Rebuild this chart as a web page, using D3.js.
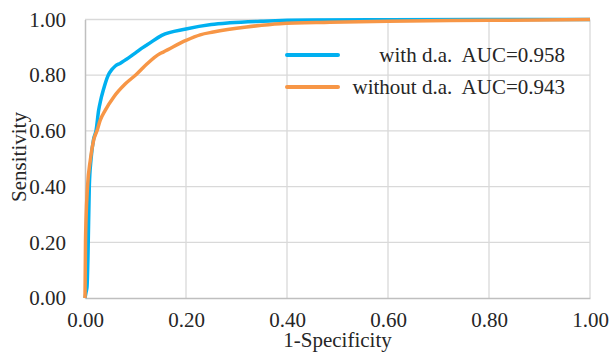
<!DOCTYPE html>
<html>
<head>
<meta charset="utf-8">
<script src="https://cdn.jsdelivr.net/npm/d3@7/dist/d3.min.js"></script>
<style>
  body { margin: 0; background: #fff; }
  text { font-family: "Liberation Serif", "Times New Roman", serif; fill: #262626; }
</style>
</head>
<body>
<div id="chart"></div>
<script>
// ROC curve points: fpr (1-specificity) and tpr (sensitivity)
var withFpr = [0, 0.002, 0.004, 0.006, 0.0085, 0.012, 0.017, 0.022, 0.027, 0.031, 0.036, 0.046, 0.053, 0.060, 0.070, 0.080, 0.089, 0.100, 0.115, 0.123, 0.152, 0.200, 0.250, 0.287, 0.353, 0.450, 0.600, 1.000];
var withTpr = [0, 0.020, 0.040, 0.160, 0.400, 0.500, 0.570, 0.602, 0.674, 0.710, 0.745, 0.800, 0.820, 0.833, 0.843, 0.855, 0.866, 0.880, 0.900, 0.909, 0.943, 0.966, 0.982, 0.988, 0.994, 0.998, 0.999, 1.000];

var withoutFpr = [0, 0.001, 0.002, 0.005, 0.0105, 0.017, 0.024, 0.030, 0.040, 0.057, 0.080, 0.103, 0.123, 0.148, 0.155, 0.200, 0.228, 0.254, 0.320, 0.386, 0.485, 0.600, 0.800, 1.000];
var withoutTpr = [0, 0.200, 0.280, 0.400, 0.495, 0.566, 0.602, 0.638, 0.674, 0.722, 0.769, 0.805, 0.841, 0.877, 0.883, 0.925, 0.945, 0.955, 0.973, 0.985, 0.990, 0.994, 0.997, 1.000];

var seriesNames = ["with d.a.  AUC=0.958", "without d.a.  AUC=0.943"];
var seriesColors = ["#00b0f0", "#f79646"];
var ticks = [0, 0.2, 0.4, 0.6, 0.8, 1.0];

var margin = {top: 19.5, right: 20, bottom: 54, left: 85};
var W = 610, H = 352;
var w = W - margin.left - margin.right;
var h = H - margin.top - margin.bottom;
var fontSize = "21px";

var svg = d3.select("#chart").append("svg")
  .attr("width", W)
  .attr("height", H);

var g = svg.append("g")
  .attr("transform", "translate(" + margin.left + "," + margin.top + ")");

var x = d3.scaleLinear().domain([0, 1]).range([0, w]);
var y = d3.scaleLinear().domain([0, 1]).range([h, 0]);

// gridlines
g.selectAll(".hgrid").data(ticks.slice(1)).enter().append("line")
  .attr("x1", 0).attr("x2", w)
  .attr("y1", function(d) { return y(d); })
  .attr("y2", function(d) { return y(d); })
  .attr("stroke", "#d9d9d9").attr("stroke-width", 1.3);
g.selectAll(".vgrid").data(ticks.slice(1)).enter().append("line")
  .attr("y1", 0).attr("y2", h)
  .attr("x1", function(d) { return x(d); })
  .attr("x2", function(d) { return x(d); })
  .attr("stroke", "#d9d9d9").attr("stroke-width", 1.3);

// axes
var xAxis = d3.axisBottom(x).tickValues(ticks).tickFormat(d3.format(".2f")).tickSize(0).tickPadding(14);
var yAxis = d3.axisLeft(y).tickValues(ticks).tickFormat(d3.format(".2f")).tickSize(0).tickPadding(19);

var gx = g.append("g").attr("transform", "translate(0," + h + ")").call(xAxis);
var gy = g.append("g").call(yAxis);
[gx, gy].forEach(function(a) {
  a.select(".domain").attr("stroke", "#bfbfbf").attr("stroke-width", 1.5);
  a.selectAll("text").attr("font-size", fontSize).attr("font-family", "Liberation Serif").attr("fill", "#262626");
});

// curves
var line = d3.line()
  .curve(d3.curveMonotoneX)
  .x(function(d) { return x(d[0]); })
  .y(function(d) { return y(d[1]); });

var series = [d3.zip(withFpr, withTpr), d3.zip(withoutFpr, withoutTpr)];

g.selectAll(".curve").data(series).enter().append("path")
  .attr("class", "curve")
  .attr("d", line)
  .attr("fill", "none")
  .attr("stroke", function(d, i) { return seriesColors[i]; })
  .attr("stroke-width", 3.5)
  .attr("stroke-linejoin", "round");

// legend
var legend = svg.selectAll(".legend").data(seriesNames).enter().append("g")
  .attr("class", "legend")
  .attr("transform", function(d, i) { return "translate(0," + (55 + i * 32) + ")"; });
legend.append("line")
  .attr("x1", 287).attr("x2", 338).attr("y1", 0).attr("y2", 0)
  .attr("stroke", function(d, i) { return seriesColors[i]; })
  .attr("stroke-width", 4).attr("stroke-linecap", "round");
legend.append("text")
  .attr("x", 565).attr("y", 7)
  .attr("text-anchor", "end")
  .attr("font-size", fontSize)
  .style("white-space", "pre")
  .text(function(d) { return d; });

// axis titles
svg.append("text")
  .attr("x", margin.left + w / 2).attr("y", 347)
  .attr("text-anchor", "middle")
  .attr("font-size", fontSize)
  .text("1-Specificity");
svg.append("text")
  .attr("transform", "translate(26,157) rotate(-90)")
  .attr("text-anchor", "middle")
  .attr("font-size", fontSize)
  .text("Sensitivity");
</script>
</body>
</html>
